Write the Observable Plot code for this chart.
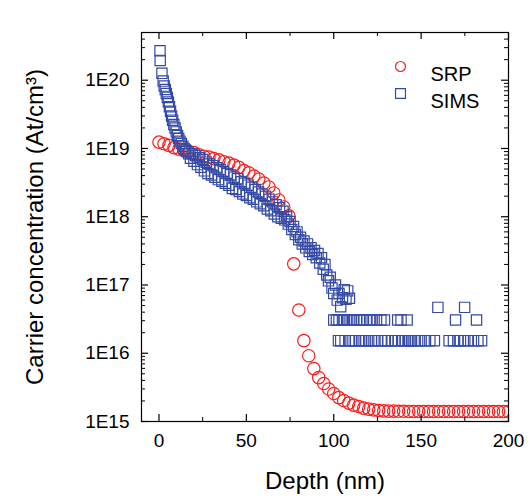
<!DOCTYPE html>
<html><head><meta charset="utf-8">
<script src="https://cdn.jsdelivr.net/npm/d3@7"></script>
<script src="https://cdn.jsdelivr.net/npm/@observablehq/plot@0.6"></script>
<style>
html,body{margin:0;padding:0;background:#fff;}
</style></head><body><div id="chart"></div>
<script>
// ---- data ----
const seriesNames = ["SRP", "SIMS"];
const xTitle = "Depth (nm)";
const yTitle = "Carrier concentration (At/cm³)";
const xTicks = [0, 50, 100, 150, 200];
const xMinorTicks = [25, 75, 125, 175];
const yTicks = [1e15, 1e16, 1e17, 1e18, 1e19, 1e20];
const yTickLabels = ["1E15", "1E16", "1E17", "1E18", "1E19", "1E20"];

const srpDepth = [0, 2.9, 5.7, 8.6, 11.4, 14.3, 17.1, 20, 22.9, 25.7, 28.6, 31.4, 34.3, 37.1, 40, 42.9, 45.7, 48.6, 51.4, 54.3,
  57.1, 60, 62.9, 65.7, 68.6, 71.4, 74.3, 77.1, 80, 82.9, 85.7, 88.6, 91.4, 94.3, 97.1, 100, 102.9, 105.7, 108.6, 111.4,
  114.3, 117.1, 120, 122.9, 125.7, 128.6, 131.4, 134.3, 137.1, 140, 142.9, 145.7, 148.6, 151.4, 154.3, 157.1, 160, 162.9,
  165.7, 168.6, 171.4, 174.3, 177.1, 180, 182.9, 185.7, 188.6, 191.4, 194.3, 197.1, 200];
const srpConc = [1.24e19, 1.17e19, 1.11e19, 1.03e19, 9.8e18, 9.3e18, 9.0e18, 8.7e18, 8.1e18, 7.7e18, 7.5e18, 7.1e18, 6.8e18,
  6.4e18, 6.1e18, 5.7e18, 5.3e18, 4.75e18, 4.4e18, 3.95e18, 3.57e18, 3.12e18, 2.73e18, 2.23e18, 1.76e18, 1.39e18, 1.03e18,
  2.04e17, 4.3e16, 1.53e16, 9.2e15, 5.96e15, 4.4e15, 3.6e15, 2.99e15, 2.57e15, 2.24e15, 2.03e15, 1.86e15, 1.74e15, 1.66e15,
  1.57e15, 1.52e15, 1.48e15, 1.45e15, 1.43e15, 1.42e15, 1.42e15, 1.41e15, 1.41e15, 1.4e15, 1.4e15, 1.4e15, 1.4e15, 1.4e15,
  1.4e15, 1.4e15, 1.4e15, 1.4e15, 1.4e15, 1.4e15, 1.4e15, 1.4e15, 1.4e15, 1.4e15, 1.4e15, 1.4e15, 1.4e15, 1.4e15, 1.4e15, 1.4e15];

const simsDepth = [0.6, 0.7, 1.7, 2.4, 3.0, 3.6, 4.2, 4.8, 5.4, 6.0, 6.6, 7.2, 7.8, 8.5, 9.2, 9.9, 10.6, 11.3, 12.0, 12.8,
  13.6, 14.4, 15.2, 16, 17, 18, 19, 20, 21, 22, 23, 24, 25, 26, 27, 28, 29, 30, 31, 32, 33, 34, 35, 36, 37, 38, 39, 40,
  41, 42, 43, 44, 45, 46, 47, 48, 49, 50, 51, 52, 53, 54, 55, 56, 57, 58, 59, 60, 61, 62, 63, 64, 65, 66, 67, 68, 69, 70,
  71, 72, 73, 74, 75, 76, 77, 78, 79, 80, 81, 82, 83, 84, 85, 86, 87, 88, 89, 90, 91, 92, 93, 94, 95, 96, 97, 98, 99, 100,
  101, 102, 103, 104, 105, 106, 107, 108, 109,
  // floor level ~3e16
  100, 101.5, 103, 105, 106, 108, 110, 111.5, 113, 115, 117, 119, 120.5, 122, 124.5, 127, 129, 136.6, 138.5, 142, 169.7, 181.7,
  // floor level ~1.5e16
  102.7, 104, 106.5, 109, 111, 112.5, 114.5, 116, 118, 120, 121.5, 123, 125, 127.5, 129.5, 131, 133, 135, 137, 139.5, 141,
  142.5, 143.5, 144.5, 146, 148, 150, 152.5, 155, 157.6, 166, 168.5, 171, 172.5, 175, 177, 180, 182.5, 184.6,
  // isolated ~4.7e16
  159.6, 174.9];
const simsConc = [2.7e20, 1.95e20, 1.26e20, 9.7e19, 8.2e19, 7.3e19, 6.4e19, 5.6e19, 4.8e19, 4.1e19, 3.5e19, 3.0e19, 2.6e19,
  2.25e19, 2.0e19, 1.75e19, 1.55e19, 1.4e19, 1.28e19, 1.18e19, 1.08e19, 1.0e19, 9.5e18, 9.0e18,
  8.4e18,
  7.2e18, 8.4e18, 6.5e18, 7.9e18, 5.8e18, 7.3e18, 5.3e18, 6.9e18, 4.7e18, 6.3e18, 4.3e18, 5.9e18, 4.1e18, 5.6e18, 3.8e18,
  5.2e18, 3.5e18, 4.9e18, 3.3e18, 4.6e18, 3.1e18, 4.3e18, 2.9e18, 4.1e18, 2.6e18, 3.8e18, 2.5e18, 3.6e18, 2.35e18, 3.25e18,
  2.15e18, 3.1e18, 2.05e18, 2.9e18, 1.9e18, 2.7e18, 1.8e18, 2.5e18, 1.65e18, 2.3e18, 1.55e18, 2.15e18, 1.45e18, 2.0e18,
  1.3e18, 1.8e18, 1.22e18, 1.65e18, 1.1e18, 1.5e18, 1.0e18, 1.35e18, 9.5e17, 1.2e18,
  9.0e17, 1.0e18, 7.8e17, 8.5e17, 6.5e17, 7.2e17, 5.5e17, 6.0e17, 4.6e17, 5.0e17, 4.0e17, 4.4e17, 3.5e17, 4.0e17, 3.1e17,
  3.5e17, 2.8e17, 3.2e17, 2.5e17, 2.9e17, 2.1e17, 2.5e17, 1.7e17, 2.0e17, 1.4e17, 1.15e17, 1.3e17, 9.0e16, 7.5e16, 1.0e17,
  6.0e16, 7.5e16, 4.8e16, 6.5e16, 8.5e16, 6.2e16, 8.2e16, 6.4e16,
  3.07e16, 3.07e16, 3.07e16, 3.07e16, 3.07e16, 3.07e16, 3.07e16, 3.07e16, 3.07e16, 3.07e16, 3.07e16, 3.07e16, 3.07e16,
  3.07e16, 3.07e16, 3.07e16, 3.07e16, 3.07e16, 3.07e16, 3.07e16, 3.07e16, 3.07e16,
  1.53e16, 1.53e16, 1.53e16, 1.53e16, 1.53e16, 1.53e16, 1.53e16, 1.53e16, 1.53e16, 1.53e16, 1.53e16, 1.53e16, 1.53e16,
  1.53e16, 1.53e16, 1.53e16, 1.53e16, 1.53e16, 1.53e16, 1.53e16, 1.53e16, 1.53e16, 1.53e16, 1.53e16, 1.53e16, 1.53e16,
  1.53e16, 1.53e16, 1.53e16, 1.53e16, 1.53e16, 1.53e16, 1.53e16, 1.53e16, 1.53e16, 1.53e16, 1.53e16, 1.53e16, 1.53e16,
  4.7e16, 4.7e16];

// ---- layout / style ----
const W = 530, H = 501;
const mTop = 32, mRight = 22, mBottom = 80, mLeft = 141;
const frameW = W - mLeft - mRight;
const frameH = H - mTop - mBottom;
const RED = "#ff1a1a";
const BLUE = "#3349a6";
const FONT = "'Liberation Sans', Arial, Helvetica, sans-serif";

const srp = srpDepth.map((d, i) => ({depth: d, conc: srpConc[i]}));
const sims = simsDepth.map((d, i) => ({depth: d, conc: simsConc[i]}));

const yMinor = [];
for (let e = 15; e <= 20; e++) for (let m = 2; m <= 9; m++) { const v = m * Math.pow(10, e); if (v <= 5e20) yMinor.push(v); }

const MAJ = 7, MIN = 4;
const chart = Plot.plot({
  width: W, height: H,
  marginTop: mTop, marginRight: mRight, marginBottom: mBottom, marginLeft: mLeft,
  style: {fontFamily: FONT, background: "#fff", color: "#000", overflow: "visible"},
  x: {domain: [-10, 200]},
  y: {type: "log", domain: [1e15, 5e20]},
  marks: [
    Plot.dot(srp, {x: "depth", y: "conc", symbol: "circle", r: 6.2, stroke: RED, strokeWidth: 1.2, fill: "none", clip: true}),
    Plot.dot(sims, {x: "depth", y: "conc", symbol: "square", r: 5.8, stroke: BLUE, strokeWidth: 1.2, fill: "none", clip: true}),
    Plot.frame({stroke: "#000", strokeWidth: 1.2}),
    Plot.tickX(xTicks, {x: d => d, insetTop: frameH - MAJ, stroke: "#000", strokeWidth: 1.2}),
    Plot.tickX(xTicks, {x: d => d, insetBottom: frameH - MAJ, stroke: "#000", strokeWidth: 1.2}),
    Plot.tickX(xMinorTicks, {x: d => d, insetTop: frameH - MIN, stroke: "#000", strokeWidth: 1}),
    Plot.tickX(xMinorTicks, {x: d => d, insetBottom: frameH - MIN, stroke: "#000", strokeWidth: 1}),
    Plot.tickY(yTicks, {y: d => d, insetRight: frameW - MAJ, stroke: "#000", strokeWidth: 1.2}),
    Plot.tickY(yTicks, {y: d => d, insetLeft: frameW - MAJ, stroke: "#000", strokeWidth: 1.2}),
    Plot.tickY(yMinor, {y: d => d, insetRight: frameW - MIN, stroke: "#000", strokeWidth: 1}),
    Plot.tickY(yMinor, {y: d => d, insetLeft: frameW - MIN, stroke: "#000", strokeWidth: 1}),
    Plot.axisX({ticks: xTicks, tickSize: 0, tickPadding: 12, fontSize: 19, label: null}),
    Plot.axisY({ticks: yTicks, tickSize: 0, tickPadding: 12, fontSize: 19, label: null,
      tickFormat: d => yTickLabels[yTicks.indexOf(d)]}),
    Plot.text([yTitle], {text: d => d, frameAnchor: "left", textAnchor: "middle", dx: -106, rotate: -90, fontSize: 24}),
    Plot.text([xTitle], {text: d => d, frameAnchor: "bottom", textAnchor: "middle", dy: 67, fontSize: 24}),
    // legend
    Plot.dot([seriesNames[0]], {frameAnchor: "top-left", dx: 259, dy: 34, r: 5, symbol: "circle", stroke: RED, strokeWidth: 1.2, fill: "none"}),
    Plot.dot([seriesNames[1]], {frameAnchor: "top-left", dx: 259, dy: 61, r: 5.6, symbol: "square", stroke: BLUE, strokeWidth: 1.2, fill: "none"}),
    Plot.text([seriesNames[0]], {text: d => d, frameAnchor: "top-left", dx: 289, dy: 34, textAnchor: "start", fontSize: 20}),
    Plot.text([seriesNames[1]], {text: d => d, frameAnchor: "top-left", dx: 289, dy: 61, textAnchor: "start", fontSize: 20})
  ]
});
document.getElementById("chart").appendChild(chart);
</script>
</body></html>
